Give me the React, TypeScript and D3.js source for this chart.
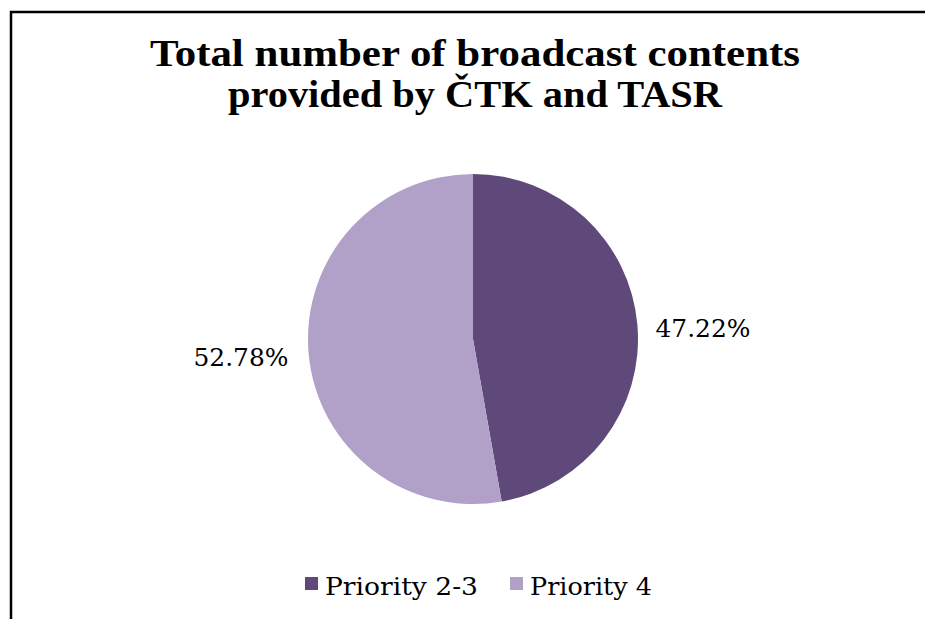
import React from "react";
import * as d3 from "d3";

const categories = ["Priority 2-3", "Priority 4"];
const values = [47.22, 52.78];
const colors = ["#5f497a", "#b1a0c7"];
const titleLines = ["Total number of broadcast contents", "provided by ČTK and TASR"];

export default function App() {
  const W = 925, H = 619;
  const cx = 473, cy = 339, r = 165;
  const pie = d3.pie<number>().sort(null).value((d) => d)(values);
  const arc = d3.arc<d3.PieArcDatum<number>>().innerRadius(0).outerRadius(r);
  const fmt = (v: number) => v.toFixed(2) + "%";
  const labelPos = [
    { x: 703, y: 337 },
    { x: 241, y: 366 },
  ];
  const titleW = [650, 494];
  const legendX = [305, 510];
  const legendW = [153, 122];
  return (
    <svg width={W} height={H} style={{ position: "absolute", left: 0, top: 0, background: "#fff" }}>
      <rect x={0} y={0} width={W} height={H} fill="#fff" />
      <path d={`M11,${H} L11,12 L${W},12`} fill="none" stroke="#000" strokeWidth={2.5} />
      <g fontFamily="'Liberation Serif', serif" fontWeight="bold" fontSize={38} textAnchor="middle" fill="#000">
        {titleLines.map((t, i) => (
          <text key={i} x={475} y={66 + i * 41} textLength={titleW[i]} lengthAdjust="spacingAndGlyphs">{t}</text>
        ))}
      </g>
      <g transform={`translate(${cx},${cy})`}>
        {pie.map((p, i) => (
          <path key={i} d={arc(p) || ""} fill={colors[i]} />
        ))}
      </g>
      <g fontFamily="'DejaVu Serif', serif" fontSize={24} textAnchor="middle" fill="#000">
        {pie.map((p, i) => (
          <text key={i} x={labelPos[i].x} y={labelPos[i].y} textLength={95} lengthAdjust="spacingAndGlyphs">{fmt(values[i])}</text>
        ))}
      </g>
      <g fontFamily="'DejaVu Serif', serif" fontSize={25} fill="#000">
        {categories.map((c, i) => (
          <g key={i}>
            <rect x={legendX[i]} y={577} width={13} height={13} fill={colors[i]} />
            <text x={legendX[i] + 20} y={595} textLength={legendW[i]} lengthAdjust="spacingAndGlyphs">{c}</text>
          </g>
        ))}
      </g>
    </svg>
  );
}
